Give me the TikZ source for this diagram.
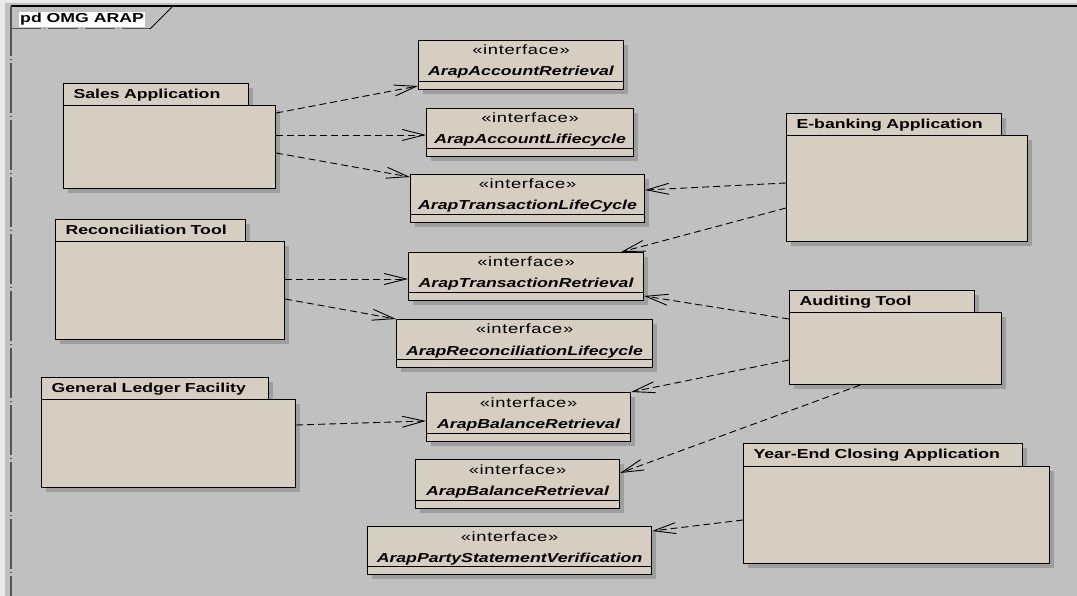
\documentclass[tikz,border=0pt]{standalone}
\usepackage{fontspec}
\setmainfont{Liberation Sans}[FakeStretch=1.36]
\newfontfamily\labelfont{Liberation Sans Bold}[FakeStretch=1.36]
\newfontfamily\namefont{Liberation Sans Bold Italic}[FakeStretch=1.36]
\newfontfamily\stereofont{Liberation Sans}[FakeStretch=1.36, LetterSpace=5]
\newcommand\textsz{\fontsize{13}{15}\selectfont}
\usetikzlibrary{arrows.meta,shadows}

\definecolor{canvas}{RGB}{192,192,192}
\definecolor{margin}{RGB}{234,234,234}
\definecolor{boxfill}{RGB}{214,206,192}
\definecolor{shade}{RGB}{158,158,158}
\definecolor{framegray}{RGB}{85,85,85}

\tikzset{
  boxshadow/.style={drop shadow={shadow xshift=4pt, shadow yshift=-4pt, fill=shade, opacity=1}},
  pkgtab/.style={draw, fill=boxfill, line width=1.1pt, boxshadow, anchor=north west,
    inner xsep=10pt, inner ysep=0pt, minimum height=22pt, text height=9.5pt,
    text depth=2.5pt, align=left, font=\labelfont\textsz},
  pkgbody/.style={draw, fill=boxfill, line width=1.1pt, boxshadow, anchor=north west, inner sep=0pt},
  ifacebox/.style={draw, fill=boxfill, line width=1.1pt, boxshadow, anchor=north west, inner sep=0pt},
  stereo/.style={anchor=base, inner sep=0pt, font=\stereofont\fontsize{13.5}{15}\selectfont},
  ifname/.style={anchor=base, inner sep=0pt, font=\namefont\textsz},
  dep/.style={line width=0.9pt, dash pattern=on 7pt off 4pt,
    -{Straight Barb[length=22pt,width=11pt]}}
}

% interface box: name, x, y, width, height, interface name
\newcommand\ifacenode[6]{%
  \node[ifacebox, minimum width=#4pt, minimum height=#5pt] (#1) at (#2,#3) {};
  \node[stereo] (#1-st) at ([yshift=-15pt]#1.north) {«interface»};
  \node[ifname] (#1-nm) at ([yshift=-36pt]#1.north) {#6};
  \draw[line width=1.1pt] ([yshift=9pt]#1.south west) -- ([yshift=9pt]#1.south east);
}

\begin{document}
\begin{tikzpicture}[x=1pt, y=-1pt, font=\textsz]
\useasboundingbox (0,0) rectangle (1077,596);

% canvas and diagram frame
\fill[margin] (0,0) rectangle (1077,596);
\fill[canvas] (5,3) rectangle (1077,596);
\draw[black, line width=1.1pt] (11,6) -- (1077,6);
\draw[framegray, line width=1.3pt, dash pattern=on 50pt off 3pt on 1pt off 3pt] (11,6) -- (11,596);
\draw[framegray, line width=1pt, dash pattern=on 30pt off 3pt on 1pt off 3pt] (11,29) -- (150,29);
\draw[black, line width=1pt] (150,29) -- (173,6);
\node[fill=white, inner xsep=1pt, inner ysep=1.5pt, anchor=base west, font=\labelfont\textsz] (title) at (19,23) {pd OMG ARAP};

% packages
\node[pkgtab, text width=165pt] (sales-tab) at (63,83) {Sales Application};
\node[pkgbody, minimum width=212pt, minimum height=83pt] (sales) at (63,105) {};

\node[pkgtab, text width=170pt] (recon-tab) at (55,219) {Reconciliation Tool};
\node[pkgbody, minimum width=229pt, minimum height=98pt] (recon) at (55,241) {};

\node[pkgtab, text width=207pt] (gl-tab) at (41,377) {General Ledger Facility};
\node[pkgbody, minimum width=254pt, minimum height=88pt] (gl) at (41,399) {};

\node[pkgtab, text width=195pt] (ebank-tab) at (786,113) {E-banking Application};
\node[pkgbody, minimum width=241pt, minimum height=106pt] (ebank) at (786,135) {};

\node[pkgtab, text width=165pt] (audit-tab) at (789,290) {Auditing Tool};
\node[pkgbody, minimum width=212pt, minimum height=72pt] (audit) at (789,312) {};

\node[pkgtab, text width=259pt, minimum height=23pt] (yearend-tab) at (743,443) {Year-End Closing Application};
\node[pkgbody, minimum width=306pt, minimum height=97pt] (yearend) at (743,466) {};

% interfaces
\ifacenode{acctret}{418}{40}{205}{49}{ArapAccountRetrieval}
\ifacenode{acctlife}{426}{108}{207}{48}{ArapAccountLifiecycle}
\ifacenode{txlife}{410}{174}{234}{48}{ArapTransactionLifeCycle}
\ifacenode{txret}{408}{252}{235}{48}{ArapTransactionRetrieval}
\ifacenode{reclife}{396}{319}{256}{48}{ArapReconciliationLifecycle}
\ifacenode{balretA}{426}{392}{204}{49}{ArapBalanceRetrieval}
\ifacenode{balretB}{415}{459}{204}{49}{ArapBalanceRetrieval}
\ifacenode{partyver}{367}{526}{284}{48}{ArapPartyStatementVerification}

% dependencies
\draw[dep] ([yshift=-8pt]sales.north east) -- ([yshift=-46pt]acctret.north west);
\draw[dep] ([yshift=-30pt]sales.north east) -- ([yshift=-27pt]acctlife.north west);
\draw[dep] ([yshift=-48pt]sales.north east) -- ([yshift=-3pt]txlife.north west);

\draw[dep] ([yshift=-38pt]recon.north east) -- ([yshift=-27pt]txret.north west);
\draw[dep] ([yshift=-58pt]recon.north east) -- (reclife.north west);

\draw[dep] ([yshift=-26pt]gl.north east) -- ([yshift=-29pt]balretA.north west);

\draw[dep] ([yshift=-48pt]ebank.north west) -- ([yshift=-16pt]txlife.north east);
\draw[dep] ([yshift=-73pt]ebank.north west) -- ([xshift=-23pt]txret.north east);

\draw[dep] ([yshift=-7pt]audit.north west) -- ([yshift=-44pt]txret.north east);
\draw[dep] ([yshift=-48pt]audit.north west) -- (balretA.north east);
\draw[dep] ([xshift=71pt]audit.south west) -- ([yshift=-14pt]balretB.north east);

\draw[dep] ([yshift=-54pt]yearend.north west) -- ([yshift=-5pt]partyver.north east);
\end{tikzpicture}
\end{document}
